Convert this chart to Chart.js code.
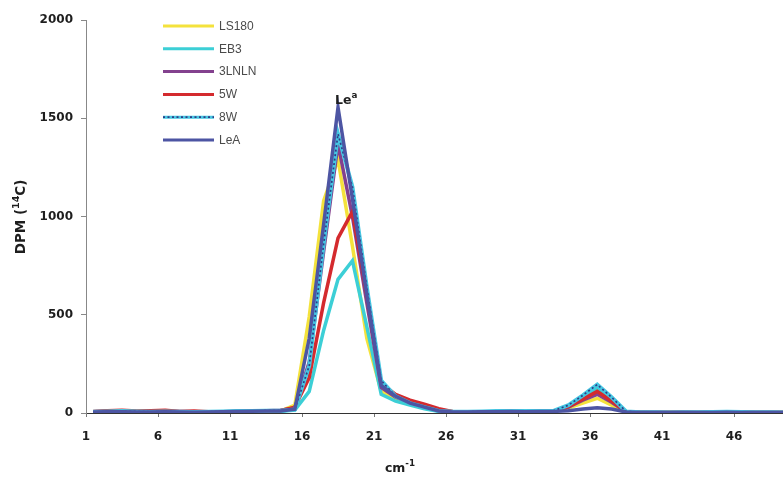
<!DOCTYPE html>
<html>
<head>
<meta charset="utf-8">
<script src="https://cdn.jsdelivr.net/npm/chart.js@4.4.1/dist/chart.umd.min.js"></script>
<style>
  html, body { margin: 0; padding: 0; background: #fff; }
  #wrap { width: 783px; height: 477px; }
</style>
</head>
<body>
<div id="wrap"><canvas id="chart" width="783" height="477"></canvas></div>
<script>
// fraction positions (cm-1)
const fractions = [1.5, 2.5, 3.5, 4.5, 5.5, 6.5, 7.5, 8.5, 9.5, 10.5, 11.5, 12.5, 13.5, 14.5,
  15.5, 16.5, 17.5, 18.5, 19.5, 20.5, 21.5, 22.5, 23.5, 24.5, 25.5, 26.5, 27.5, 28.5, 29.5,
  30.5, 31.5, 32.5, 33.5, 34.5, 35.5, 36.5, 37.5, 38.5, 39.5, 40.5, 41.5, 42.5, 43.5, 44.5,
  45.5, 46.5, 47.5, 48.5, 49.5];
const xTicks = [1, 6, 11, 16, 21, 26, 31, 36, 41, 46];
const yTicks = [0, 500, 1000, 1500, 2000];

// DPM per fraction
const ls180 = [5, 8, 10, 7, 6, 8, 5, 4, 6, 5, 4, 6, 8, 10,
  40, 490, 1080, 1290, 850, 380, 110, 75, 50, 30, 12,
  6, 5, 4, 5, 6, 5, 6, 8, 25, 50, 75, 40, 6,
  4, 3, 4, 3, 3, 4, 5, 4, 3, 4, 3];
const eb3 = [4, 6, 8, 6, 5, 6, 4, 3, 5, 4, 3, 5, 6, 8,
  15, 110, 420, 680, 775, 440, 95, 60, 40, 22, 8,
  5, 4, 4, 5, 5, 4, 5, 7, 30, 80, 130, 70, 6,
  3, 3, 3, 2, 3, 3, 4, 3, 3, 3, 2];
const lnln3 = [6, 10, 12, 8, 6, 10, 8, 6, 5, 6, 8, 10, 12, 14,
  25, 260, 820, 1370, 1000, 560, 130, 80, 55, 35, 15,
  6, 6, 5, 6, 7, 6, 8, 10, 30, 65, 95, 55, 6,
  4, 4, 3, 4, 3, 4, 5, 4, 3, 4, 3];
const w5 = [8, 12, 14, 10, 12, 14, 8, 10, 6, 5, 8, 10, 10, 12,
  30, 180, 560, 890, 1025, 600, 150, 95, 65, 45, 22,
  6, 5, 5, 6, 6, 5, 6, 8, 32, 70, 110, 60, 6,
  4, 3, 3, 4, 3, 4, 5, 6, 4, 3, 3];
const w8 = [6, 8, 10, 8, 6, 8, 6, 5, 6, 8, 10, 10, 12, 12,
  18, 240, 860, 1420, 1150, 640, 165, 85, 50, 30, 10,
  6, 6, 8, 10, 10, 10, 10, 12, 40, 90, 145, 80, 8,
  4, 4, 3, 4, 4, 5, 6, 5, 4, 4, 3];
const lea = [5, 6, 6, 5, 5, 6, 5, 4, 5, 6, 8, 9, 10, 10,
  20, 380, 960, 1555, 1090, 600, 140, 85, 50, 30, 10,
  5, 5, 6, 6, 7, 6, 7, 8, 12, 20, 27, 20, 5,
  3, 3, 3, 3, 3, 3, 4, 3, 3, 3, 3];

const seriesNames = ['LS180', 'EB3', '3LNLN', '5W', '8W', 'LeA'];
const seriesValues = [ls180, eb3, lnln3, w5, w8, lea];
const seriesColors = ['#F4E23C', '#3CCFD6', '#83418E', '#D42A2E', '#45C6E2', '#4D55A3'];
const dottedSeries = '8W';
const dotColor = '#2E3C86';

const boldFont = '"DejaVu Sans", sans-serif';

function pointsOf(values) {
  return values.map((v, i) => ({ x: fractions[i], y: v }));
}

const datasets = seriesNames.map((name, i) => ({
  label: name,
  data: pointsOf(seriesValues[i]),
  borderColor: seriesColors[i],
  borderWidth: name === dottedSeries ? 4 : 3.5,
  pointRadius: 0,
  tension: 0,
  fill: false,
  order: seriesNames.length - 1 - i
}));

function strokeDots(ctx, pts) {
  ctx.save();
  ctx.setLineDash([2, 2.5]);
  ctx.strokeStyle = dotColor;
  ctx.lineWidth = 1.7;
  ctx.beginPath();
  pts.forEach((p, k) => (k ? ctx.lineTo(p.x, p.y) : ctx.moveTo(p.x, p.y)));
  ctx.stroke();
  ctx.restore();
}

// text with a raised part, e.g. "DPM (" + "14" + "C)"
function supText(ctx, parts, x, y, size, align) {
  const widths = parts.map(p => {
    ctx.font = 'bold ' + (p.sup ? size * 0.7 : size) + 'px ' + boldFont;
    return ctx.measureText(p.t).width;
  });
  const total = widths.reduce((a, b) => a + b, 0);
  let cx = align === 'center' ? x - total / 2 : x;
  parts.forEach((p, k) => {
    ctx.font = 'bold ' + (p.sup ? size * 0.7 : size) + 'px ' + boldFont;
    ctx.fillText(p.t, cx, p.sup ? y - size * 0.45 : y);
    cx += widths[k];
  });
}

const decor = {
  id: 'decor',
  afterDatasetDraw(chart, args) {
    if (args.meta.label !== dottedSeries) return;
    const a = chart.chartArea;
    const ctx = chart.ctx;
    ctx.save();
    ctx.beginPath();
    ctx.rect(a.left, a.top, a.right - a.left, a.bottom - a.top);
    ctx.clip();
    strokeDots(ctx, args.meta.data.map(p => ({ x: p.x, y: p.y })));
    ctx.restore();
  },
  afterDraw(chart) {
    const ctx = chart.ctx;
    ctx.save();

    // legend box, top left of the plot
    const lx0 = 163, lx1 = 214, ly0 = 26, step = 22.8;
    datasets.forEach((ds, i) => {
      const y = ly0 + i * step;
      ctx.strokeStyle = ds.borderColor;
      ctx.lineWidth = 3;
      ctx.beginPath();
      ctx.moveTo(lx0, y);
      ctx.lineTo(lx1, y);
      ctx.stroke();
      if (ds.label === dottedSeries) strokeDots(ctx, [{ x: lx0, y }, { x: lx1, y }]);
      ctx.fillStyle = '#4a4a4a';
      ctx.font = '12px "Liberation Sans", Arial, sans-serif';
      ctx.textAlign = 'left';
      ctx.textBaseline = 'middle';
      ctx.fillText(ds.label, 219, y + 0.5);
    });

    ctx.fillStyle = '#1e1e1e';
    ctx.textAlign = 'left';
    ctx.textBaseline = 'alphabetic';

    // peak label
    supText(ctx, [{ t: 'Le' }, { t: 'a', sup: true }], 335, 104, 12.5, 'left');

    // x title
    supText(ctx, [{ t: 'cm' }, { t: '-1', sup: true }], 400, 472, 12.5, 'center');

    // y title, rotated
    ctx.translate(25, 217);
    ctx.rotate(-Math.PI / 2);
    supText(ctx, [{ t: 'DPM (' }, { t: '14', sup: true }, { t: 'C)' }], 0, 0, 13.5, 'center');
    ctx.restore();
  }
};

new Chart(document.getElementById('chart'), {
  type: 'line',
  data: { datasets },
  options: {
    responsive: false,
    animation: false,
    layout: { padding: { top: 20, right: 0, left: 0, bottom: 0 } },
    plugins: { legend: { display: false }, tooltip: { enabled: false } },
    scales: {
      x: {
        type: 'linear',
        min: 1,
        max: 49.4,
        afterBuildTicks: s => { s.ticks = xTicks.map(v => ({ value: v })); },
        afterFit: s => { s.height = 64; },
        ticks: {
          autoSkip: false,
          maxRotation: 0,
          padding: 13,
          color: '#1e1e1e',
          font: { family: boldFont, size: 12, weight: 'bold' },
          callback: v => String(v)
        },
        grid: { drawOnChartArea: false, drawTicks: true, tickLength: 4, color: '#777' },
        border: { color: '#333', width: 1 }
      },
      y: {
        min: 0,
        max: 2000,
        afterBuildTicks: s => { s.ticks = yTicks.map(v => ({ value: v })); },
        afterFit: s => { s.width = 86; },
        ticks: {
          padding: 8,
          color: '#1e1e1e',
          font: { family: boldFont, size: 12, weight: 'bold' },
          callback: v => String(v)
        },
        grid: { drawOnChartArea: false, drawTicks: true, tickLength: 5, color: '#888' },
        border: { color: '#888', width: 1, dash: [1, 1] }
      }
    }
  },
  plugins: [decor]
});
</script>
</body>
</html>
